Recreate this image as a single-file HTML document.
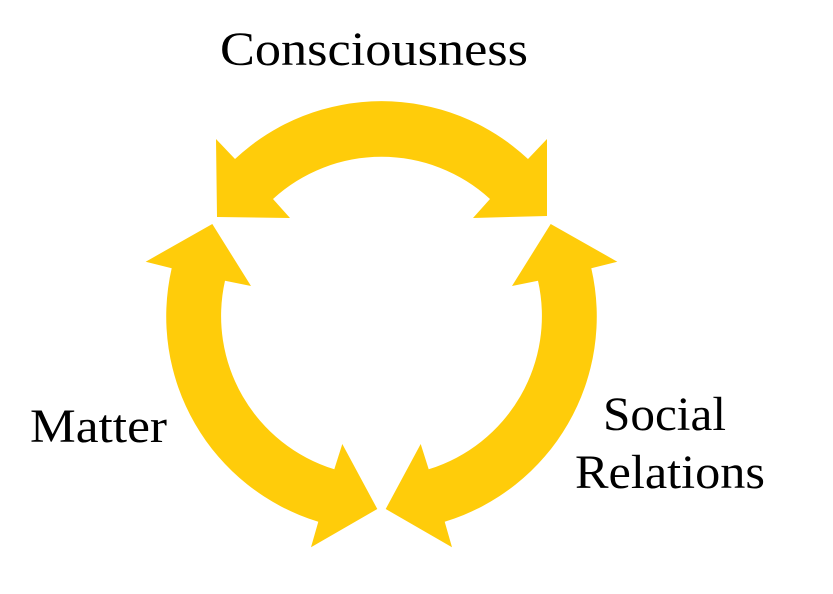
<!DOCTYPE html>
<html>
<head>
<meta charset="utf-8">
<style>
  html, body { margin:0; padding:0; background:#fff; }
  body { width:833px; height:594px; overflow:hidden; }
  svg { display:block; }
  text { font-family: "Liberation Serif", "DejaVu Serif", serif; fill:#000; }
</style>
</head>
<body>
<svg width="833" height="594" viewBox="0 0 833 594" xmlns="http://www.w3.org/2000/svg">
  <rect width="833" height="594" fill="#fff"/>
  <g fill="#FFCC0A">
    <!-- Top arrow (double-headed) -->
    <path d="M 235,159 A 214.5 214.5 0 0 1 528,159 L 547,139 L 547,216 L 473,218 L 490,199 A 160.5 160.5 0 0 0 273,199 L 290,218 L 217,217 L 216,139 Z"/>
    <!-- Left arrow -->
    <path d="M 171.7,268.3 A 214.5 214.5 0 0 0 318.3,521.7 L 311,547.3 L 377.3,509 L 342.3,444 L 334.3,469.3 A 160.5 160.5 0 0 1 225,280.7 L 251,286 L 212.3,224 L 145.7,261.7 Z"/>
    <!-- Right arrow -->
    <path d="M 591.3,268.3 A 214.5 214.5 0 0 1 444.7,521.7 L 452,547.3 L 385.7,509 L 420.7,444 L 428.7,469.3 A 160.5 160.5 0 0 0 538,280.7 L 512,286 L 550.7,224 L 617.3,261.7 Z"/>
  </g>
  <text x="220" y="65" font-size="48" textLength="308" lengthAdjust="spacingAndGlyphs">Consciousness</text>
  <text x="30" y="442" font-size="48" textLength="137" lengthAdjust="spacingAndGlyphs">Matter</text>
  <text x="603" y="430" font-size="48" textLength="123" lengthAdjust="spacingAndGlyphs">Social</text>
  <text x="575" y="488" font-size="48" textLength="190" lengthAdjust="spacingAndGlyphs">Relations</text>
</svg>
</body>
</html>
